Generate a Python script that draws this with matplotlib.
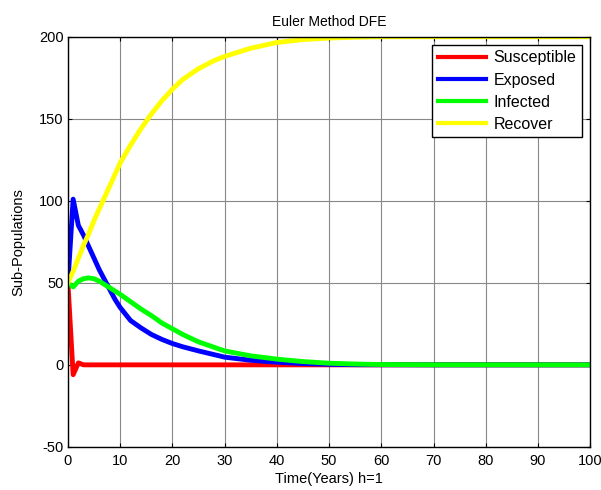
import numpy as np
import matplotlib
matplotlib.use("Agg")
import matplotlib.pyplot as plt

plt.rcParams['font.family'] = ['Liberation Sans', 'DejaVu Sans']
plt.rcParams['axes.unicode_minus'] = False

# values (Euler, h=1)
t_s = [0, 1, 2, 3, 5, 10, 20, 40, 60, 80, 100]
susceptible = [50, -6, 1.2, 0, 0, 0, 0, 0, 0, 0, 0]

t_e = [0, 1, 2, 3, 4, 5, 6, 7, 8, 9, 10, 12, 14, 16, 18, 20, 22, 25, 30, 35, 40, 45, 50, 55, 60, 70, 100]
exposed = [50, 101, 85, 79, 72, 65, 58, 52, 46, 40, 35, 27, 22.5, 18.5, 15.5, 13, 11, 8.5,
           4.7, 2.8, 1.6, 0.8, 0.3, 0.1, 0.05, 0, 0]

t_i = [0, 1, 2, 3, 4, 5, 6, 7, 8, 9, 10, 12, 14, 16, 18, 20, 22, 25, 30, 35, 40, 45, 50, 55, 60, 70, 100]
infected = [50, 47.5, 51, 52.5, 53, 52.5, 51, 49, 47, 45, 43, 38.5, 34, 30, 25.5, 22, 18.5, 14,
            8.5, 5.5, 3.5, 2, 1, 0.5, 0.2, 0.05, 0]

t_r = [0, 1, 2, 3, 4, 5, 6, 7, 8, 9, 10, 12, 14, 15, 16, 18, 20, 22, 25, 28, 30, 35, 40, 45, 50, 55, 60, 100]
recover = [50, 57, 65, 73, 80, 88, 95, 102, 109, 116, 123, 134, 144, 148.5, 153, 161, 168, 174,
           180.5, 185.5, 188, 193, 196.5, 198.3, 199.2, 199.7, 200, 200]

fig = plt.figure(figsize=(6.01, 4.90), dpi=100)
ax = fig.add_axes([0.113, 0.088, 0.869, 0.837])

lw = 3.5
ax.plot(t_s, susceptible, color='red', lw=lw, label='Susceptible')
ax.plot(t_e, exposed, color='blue', lw=lw, label='Exposed')
ax.plot(t_i, infected, color=(0, 1, 0), lw=lw, label='Infected')
ax.plot(t_r, recover, color='yellow', lw=lw, label='Recover')

ax.set_xlim(0, 100)
ax.set_ylim(-50, 200)
ax.set_xticks(np.arange(0, 101, 10))
ax.set_yticks(np.arange(-50, 201, 50))
ax.grid(True, color='#888888', lw=0.8)
ax.set_axisbelow(True)
ax.tick_params(direction='in', length=3, top=True, right=True, labelsize=10.5)
ax.tick_params(axis='x', pad=5)
ax.tick_params(axis='y', pad=3)
for s in ax.spines.values():
    s.set_linewidth(1.0)

ax.set_title('Euler Method DFE', fontsize=10, pad=8)
ax.set_xlabel('Time(Years) h=1', fontsize=10.5, labelpad=3)
ax.set_ylabel('Sub-Populations', fontsize=10.5, labelpad=10)

leg = ax.legend(loc='upper right', fontsize=11.5, fancybox=False, framealpha=1,
                edgecolor='black', borderaxespad=0.5, handlelength=3.0,
                handletextpad=0.5, labelspacing=0.45, borderpad=0.35)
leg.get_frame().set_linewidth(1.0)
for h in leg.get_lines():
    h.set_linewidth(3.0)

fig.savefig('out.png', dpi=100)
